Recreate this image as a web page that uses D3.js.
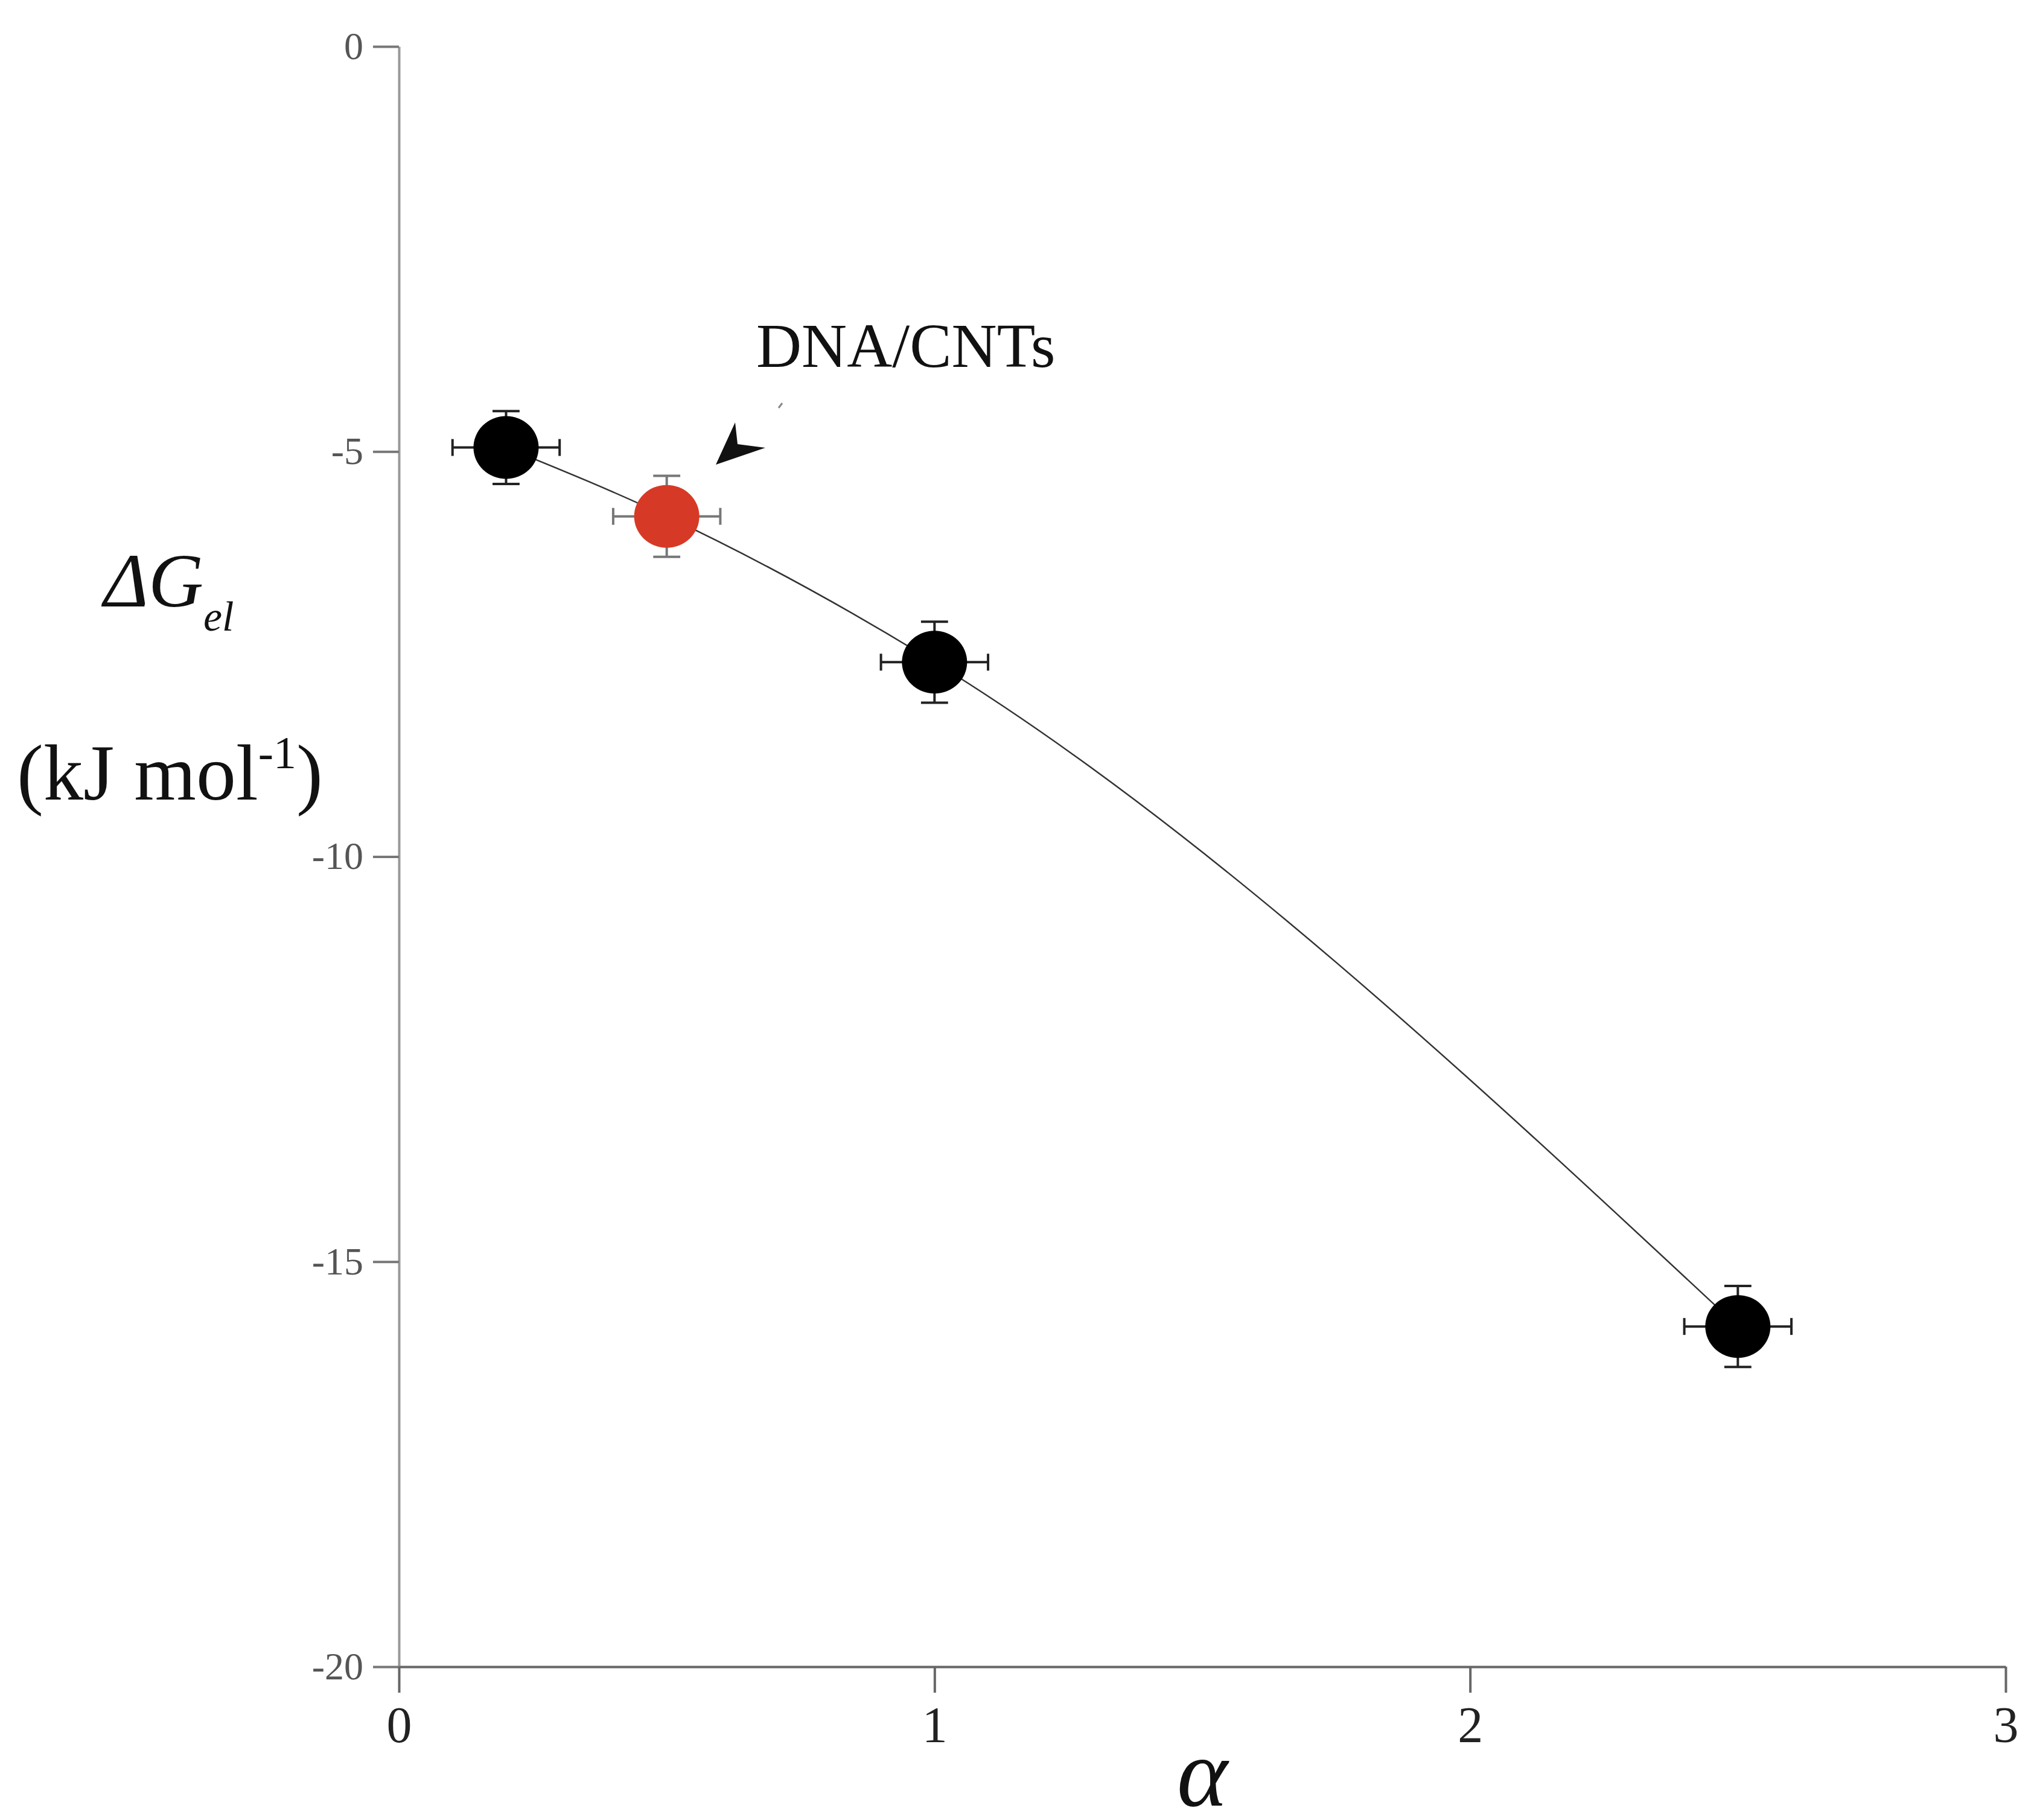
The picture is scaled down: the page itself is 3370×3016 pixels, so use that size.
<!DOCTYPE html>
<html>
<head>
<meta charset="utf-8">
<script src="https://d3js.org/d3.v7.min.js"></script>
<style>
  body { margin: 0; background: #fff; }
  text { font-family: "Liberation Serif", "Times New Roman", serif; }
</style>
</head>
<body>
<svg id="chart" width="3370" height="3016"></svg>
<script>
  // data
  const alpha = [0.2, 0.5, 1.0, 2.5];
  const dG = [-4.95, -5.8, -7.6, -15.8];
  const xErr = [0.1, 0.1, 0.1, 0.1];
  const yErr = [0.45, 0.5, 0.5, 0.5];
  const pointColors = ["#000", "#d63a26", "#000", "#000"];
  const xTicks = [0, 1, 2, 3];
  const yTicks = [0, -5, -10, -15, -20];

  const svg = d3.select("#chart");
  const x = d3.scaleLinear().domain([0, 3]).range([661, 3323]);
  const y = d3.scaleLinear().domain([-20, 0]).range([2762, 77]);
  const fmt = d => String(d);

  // axes
  const yAxis = svg.append("g")
    .attr("transform", "translate(" + x(0) + ",0)")
    .call(d3.axisLeft(y).tickValues(yTicks).tickFormat(fmt).tickSize(43).tickPadding(16).tickSizeOuter(0));
  yAxis.select(".domain").attr("stroke", "#999").attr("stroke-width", 4);
  yAxis.selectAll(".tick line").attr("stroke", "#777").attr("stroke-width", 4);
  yAxis.selectAll(".tick text").attr("font-size", 64).attr("fill", "#555")
    .style("font-family", "Liberation Serif");

  const xAxis = svg.append("g")
    .attr("transform", "translate(0," + y(-20) + ")")
    .call(d3.axisBottom(x).tickValues(xTicks).tickFormat(fmt).tickSize(43).tickPadding(22).tickSizeOuter(0));
  xAxis.select(".domain").attr("stroke", "#666").attr("stroke-width", 4);
  xAxis.selectAll(".tick line").attr("stroke", "#666").attr("stroke-width", 4);
  xAxis.selectAll(".tick text").attr("font-size", 84).attr("fill", "#222")
    .style("font-family", "Liberation Serif");

  // curve through the points
  const pts = alpha.map((a, i) => [a, dG[i]]);
  svg.append("path")
    .datum(pts)
    .attr("fill", "none")
    .attr("stroke", "#333")
    .attr("stroke-width", 2.5)
    .attr("d", d3.line().x(d => x(d[0])).y(d => y(d[1])).curve(d3.curveMonotoneX));

  // error bars
  const cap = 14;
  pts.forEach((p, i) => {
    const c = i === 1 ? "#777" : "#222";
    const g = svg.append("g").attr("stroke", c).attr("stroke-width", 4);
    g.append("line").attr("x1", x(p[0] - xErr[i])).attr("x2", x(p[0] + xErr[i]))
      .attr("y1", y(p[1])).attr("y2", y(p[1]));
    g.append("line").attr("x1", x(p[0] - xErr[i])).attr("x2", x(p[0] - xErr[i]))
      .attr("y1", y(p[1]) - cap).attr("y2", y(p[1]) + cap);
    g.append("line").attr("x1", x(p[0] + xErr[i])).attr("x2", x(p[0] + xErr[i]))
      .attr("y1", y(p[1]) - cap).attr("y2", y(p[1]) + cap);
    g.append("line").attr("x1", x(p[0])).attr("x2", x(p[0]))
      .attr("y1", y(p[1] - yErr[i])).attr("y2", y(p[1] + yErr[i]));
    g.append("line").attr("x1", x(p[0]) - cap * 1.6).attr("x2", x(p[0]) + cap * 1.6)
      .attr("y1", y(p[1] - yErr[i])).attr("y2", y(p[1] - yErr[i]));
    g.append("line").attr("x1", x(p[0]) - cap * 1.6).attr("x2", x(p[0]) + cap * 1.6)
      .attr("y1", y(p[1] + yErr[i])).attr("y2", y(p[1] + yErr[i]));
  });

  svg.selectAll(".pt")
    .data(pts)
    .join("ellipse")
    .attr("cx", d => x(d[0]))
    .attr("cy", d => y(d[1]))
    .attr("rx", 54).attr("ry", 52)
    .attr("fill", (d, i) => pointColors[i]);

  // annotation
  svg.append("text").attr("x", 1253).attr("y", 608).attr("font-size", 104)
    .attr("fill", "#111").text("DNA/CNTs");
  // chevron arrowhead pointing down-left
  svg.append("path")
    .attr("d", "M1186,770 L1218,700 L1222,736 L1268,742 Z")
    .attr("fill", "#111");
  svg.append("line").attr("x1", 1290).attr("y1", 676).attr("x2", 1296).attr("y2", 668)
    .attr("stroke", "#888").attr("stroke-width", 3);

  // axis titles
  const yl = svg.append("text").attr("x", 172).attr("y", 1005).attr("font-size", 126)
    .attr("font-style", "italic").attr("fill", "#111");
  yl.append("tspan").text("\u0394G");
  yl.append("tspan").attr("font-size", 70).attr("dy", 40).text("el");

  const ul = svg.append("text").attr("x", 28).attr("y", 1325).attr("font-size", 132)
    .attr("fill", "#111");
  ul.append("tspan").text("(kJ mol");
  ul.append("tspan").attr("font-size", 76).attr("dy", -52).text("-1");
  ul.append("tspan").attr("dy", 52).text(")");

  svg.append("text").attr("x", x(1.5)).attr("y", 2992).attr("text-anchor", "middle")
    .attr("font-size", 160).attr("font-style", "italic").attr("fill", "#111")
    .text("\u03b1");
</script>
</body>
</html>
